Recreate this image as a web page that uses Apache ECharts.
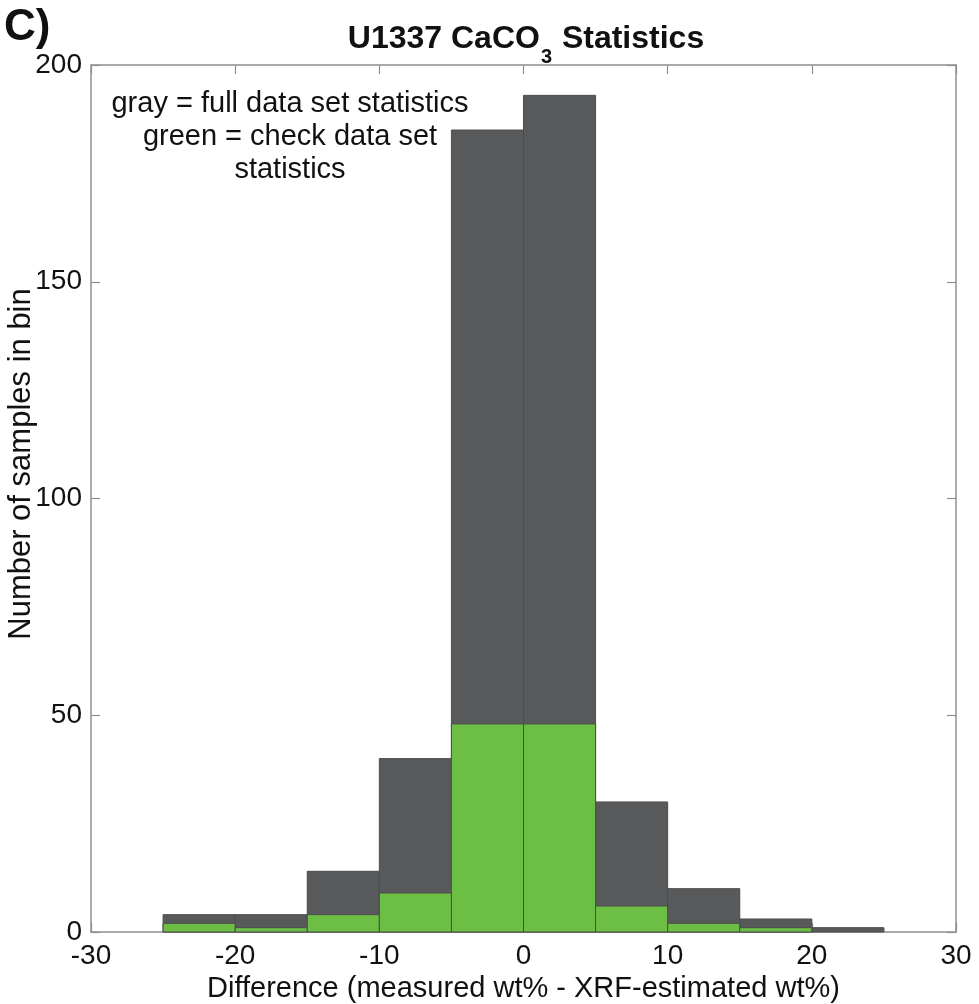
<!DOCTYPE html>
<html><head><meta charset="utf-8">
<script src="https://cdn.jsdelivr.net/npm/echarts@6/dist/echarts.min.js"></script>
<style>html,body{margin:0;padding:0;background:#fff}#c{width:979px;height:1004px}</style>
</head><body><div id="c"></div>
<script>
const binStarts = [-25, -20, -15, -10, -5, 0, 5, 10, 15, 20];
const binWidth = 5;
const grayCounts = [4, 4, 14, 40, 185, 193, 30, 10, 3, 1];
const greenCounts = [2, 1, 4, 9, 48, 48, 6, 2, 1, 0];
const xTicks = [-30, -20, -10, 0, 10, 20, 30];
const yTicks = [0, 50, 100, 150, 200];

const reg = '"Liberation Sans", Arial, sans-serif';

function histData(counts){ return binStarts.map((s,i)=>[s, s+binWidth, counts[i]]); }
function renderRect(color){
  return function(params, api){
    if (api.value(2) <= 0) return null;
    const p0 = api.coord([api.value(0), api.value(2)]);
    const p1 = api.coord([api.value(1), 0]);
    return {type:'rect', shape:{x:p0[0], y:p0[1], width:p1[0]-p0[0], height:p1[1]-p0[1]},
      style:{fill:color, stroke:'#4d4d4d', lineWidth:1}};
  };
}
const axisLineStyle = {color:'#8f8f8f', width:1.5};
const tickStyle = {color:'#8f8f8f', width:1.2};
const chart = echarts.init(document.getElementById('c'), null, {renderer:'canvas'});
chart.setOption({
  animation:false,
  grid:{left:91, right:23, top:65, bottom:72, containLabel:false, outerBoundsMode:'none'},
  title:{
    text:'{t|U1337 CaCO}{s|3}{t| Statistics}',
    left:521, top:14, textAlign:'center',
    textStyle:{rich:{
      t:{fontFamily:reg, fontWeight:'bold', fontSize:32, color:'#111', verticalAlign:'bottom', lineHeight:36},
      s:{fontFamily:reg, fontWeight:'bold', fontSize:20, color:'#111', verticalAlign:'bottom', lineHeight:20, padding:[0,1,-12,1]}
    }}
  },
  xAxis:[{
    type:'value', min:-30, max:30, interval:10, position:'bottom',
    axisLine:{show:true, onZero:false, lineStyle:axisLineStyle},
    axisTick:{show:true, inside:true, length:9, lineStyle:tickStyle},
    splitLine:{show:false},
    axisLabel:{fontFamily:reg, fontSize:28, color:'#111', margin:10,
      formatter:v=> xTicks.includes(v) ? String(v) : ''},
    name:'Difference (measured wt% - XRF-estimated wt%)', nameLocation:'middle', nameGap:38,
    nameTextStyle:{fontFamily:reg, fontSize:29, color:'#111'}
  },{
    type:'value', min:-30, max:30, interval:10, position:'top',
    axisLine:{show:true, onZero:false, lineStyle:axisLineStyle},
    axisTick:{show:true, inside:true, length:9, lineStyle:tickStyle},
    axisLabel:{show:false}, splitLine:{show:false}
  }],
  yAxis:[{
    type:'value', min:0, max:200, interval:50, position:'left',
    axisLine:{show:true, onZero:false, lineStyle:axisLineStyle},
    axisTick:{show:true, inside:true, length:9, lineStyle:tickStyle},
    splitLine:{show:false},
    axisLabel:{fontFamily:reg, fontSize:28, color:'#111', margin:9,
      formatter:v=> yTicks.includes(v) ? String(v) : ''}
  },{
    type:'value', min:0, max:200, interval:50, position:'right',
    axisLine:{show:true, onZero:false, lineStyle:axisLineStyle},
    axisTick:{show:true, inside:true, length:9, lineStyle:tickStyle},
    axisLabel:{show:false}, splitLine:{show:false}
  }],
  series:[
    {type:'custom', name:'gray', xAxisIndex:0, yAxisIndex:0, renderItem:renderRect('#58595b'),
      encode:{x:[0,1], y:2}, data:histData(grayCounts), z:2},
    {type:'custom', name:'green', xAxisIndex:0, yAxisIndex:0, renderItem:renderRect('#6dbe45'),
      encode:{x:[0,1], y:2}, data:histData(greenCounts), z:3}
  ],
  graphic:[
    {type:'text', left:4, top:6, style:{text:'C)', fontFamily:reg, fontWeight:'bold', fontSize:44, fill:'#111'}},
    {type:'text', x:21, y:464, rotation:Math.PI/2,
      style:{text:'Number of samples in bin', fontFamily:reg, fontSize:31, fill:'#111', align:'center', verticalAlign:'middle'}},
    {type:'text', x:290, y:87, style:{text:'gray = full data set statistics\ngreen = check data set\nstatistics',
      fontFamily:reg, fontSize:29, lineHeight:33, fill:'#111', align:'center', verticalAlign:'top'}, z:10}
  ]
});
</script></body></html>
